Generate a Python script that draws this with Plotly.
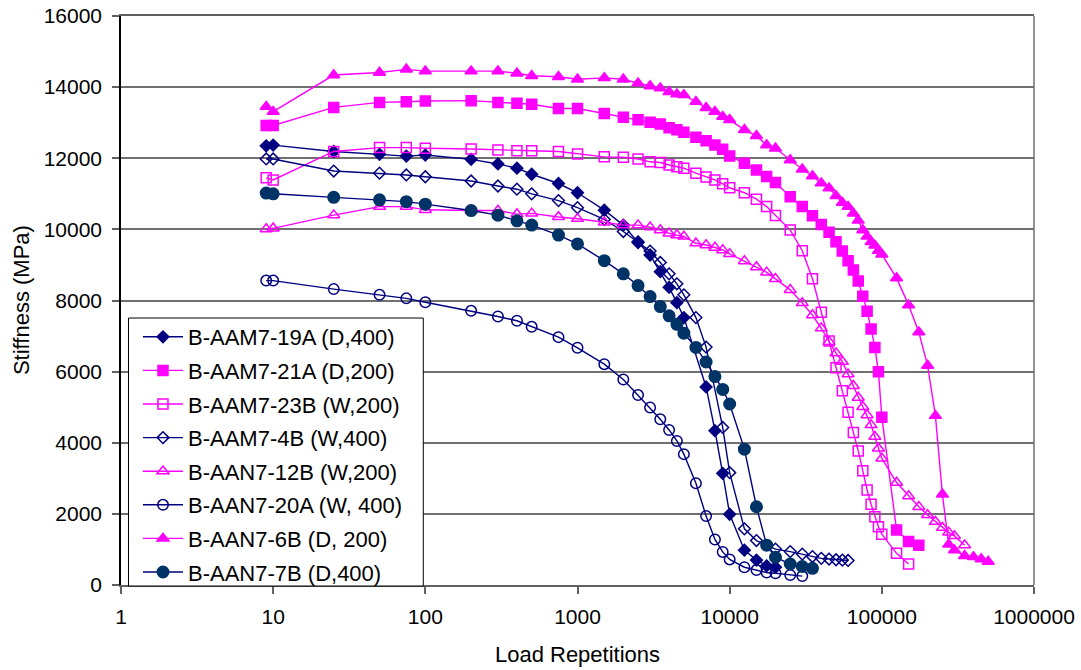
import plotly.graph_objects as go

# ---------------- data ----------------
n_19a = [9, 10, 25, 50, 75, 100, 200, 300, 400, 500, 750, 1000, 1500, 2000, 2500, 3000, 3500, 4000, 4500, 5000,
         7000, 8000, 9000, 10000, 12500, 15000, 17500, 20000]
s_19a = [12350, 12370, 12190, 12110, 12060, 12090, 11970, 11840, 11720, 11550, 11290, 11030, 10540, 10120, 9630,
         9280, 8810, 8370, 7940, 7520, 5570, 4340, 3140, 1990, 980, 700, 540, 500]

n_21a = [9, 10, 25, 50, 75, 100, 200, 300, 400, 500, 750, 1000, 1500, 2000, 2500, 3000, 3500, 4000, 4500, 5000,
         6000, 7000, 8000, 9000, 10000, 12500, 15000, 17500, 20000, 25000, 30000, 35000, 40000, 45000, 50000,
         55000, 60000, 65000, 70000, 75000, 80000, 85000, 90000, 95000, 100000, 125000, 150000, 175000]
s_21a = [12920, 12920, 13430, 13570, 13590, 13610, 13620, 13570, 13550, 13520, 13400, 13400, 13260, 13150, 13080,
         13010, 12960, 12860, 12800, 12730, 12590, 12490, 12370, 12250, 12060, 11860, 11670, 11490, 11320, 10920,
         10640, 10380, 10140, 9920, 9650, 9390, 9120, 8860, 8550, 8120, 7700, 7200, 6680, 6000, 4720, 1550, 1220, 1120]

n_23b = [9, 10, 25, 50, 75, 100, 200, 300, 400, 500, 750, 1000, 1500, 2000, 2500, 3000, 3500, 4000, 4500, 5000,
         6000, 7000, 8000, 9000, 10000, 12500, 15000, 17500, 20000, 25000, 30000, 35000, 40000, 45000, 50000,
         55000, 60000, 65000, 70000, 75000, 80000, 85000, 90000, 95000, 100000, 125000, 150000]
s_23b = [11450, 11390, 12190, 12300, 12300, 12280, 12260, 12230, 12210, 12210, 12190, 12120, 12040, 12030, 11980,
         11900, 11880, 11810, 11760, 11720, 11580, 11470, 11390, 11280, 11170, 11030, 10850, 10640, 10390, 9980,
         9400, 8610, 7670, 6860, 6110, 5460, 4860, 4290, 3770, 3210, 2670, 2270, 1920, 1640, 1430, 890, 590]

n_4b = [9, 10, 25, 50, 75, 100, 200, 300, 400, 500, 750, 1000, 1500, 2000, 2500, 3000, 3500, 4000, 4500, 5000,
        6000, 7000, 9000, 10000, 12500, 15000, 20000, 25000, 30000, 35000, 40000, 45000, 50000, 55000, 60000]
s_4b = [11980, 11980, 11640, 11580, 11530, 11480, 11360, 11220, 11130, 11000, 10810, 10610, 10280, 9940, 9650,
        9390, 9070, 8750, 8470, 8160, 7520, 6690, 4430, 3160, 1580, 1250, 1010, 940, 870, 800, 750, 730, 710, 700, 690]

n_12b = [9, 10, 25, 50, 75, 100, 200, 300, 400, 500, 750, 1000, 1500, 2000, 2500, 3000, 3500, 4000, 4500, 5000,
         6000, 7000, 8000, 9000, 10000, 12500, 15000, 17500, 20000, 25000, 30000, 35000, 40000, 45000, 50000,
         55000, 60000, 65000, 70000, 75000, 80000, 85000, 90000, 95000, 100000, 125000, 150000, 175000, 200000,
         225000, 250000, 275000, 300000, 350000]
s_12b = [10010, 10030, 10400, 10640, 10640, 10550, 10530, 10530, 10430, 10450, 10350, 10300, 10200, 10120, 10120,
         10060, 9980, 9890, 9840, 9800, 9610, 9560, 9490, 9420, 9310, 9110, 8940, 8790, 8610, 8300, 7930, 7590,
         7220, 6840, 6520, 6280, 5930, 5600, 5270, 5010, 4780, 4500, 4170, 3840, 3560, 2880, 2500, 2200, 1970,
         1780, 1610, 1480, 1380, 1120]

n_20a = [9, 10, 25, 50, 75, 100, 200, 300, 400, 500, 750, 1000, 1500, 2000, 2500, 3000, 3500, 4000, 4500, 5000,
         6000, 7000, 8000, 9000, 10000, 12500, 15000, 17500, 20000, 25000, 30000]
s_20a = [8560, 8560, 8320, 8160, 8060, 7950, 7710, 7550, 7430, 7260, 6970, 6670, 6210, 5780, 5340, 4990, 4660,
         4360, 4050, 3680, 2860, 1940, 1280, 930, 720, 500, 420, 350, 330, 280, 250]

n_6b = [9, 10, 25, 50, 75, 100, 200, 300, 400, 500, 750, 1000, 1500, 2000, 2500, 3000, 3500, 4000, 4500, 5000,
        6000, 7000, 8000, 9000, 10000, 12500, 15000, 17500, 20000, 25000, 30000, 35000, 40000, 45000, 50000,
        55000, 60000, 65000, 70000, 75000, 80000, 85000, 90000, 95000, 100000, 125000, 150000, 175000, 200000,
        225000, 250000, 275000, 300000, 350000, 400000, 450000, 500000]
s_6b = [13450, 13310, 14340, 14410, 14500, 14450, 14450, 14450, 14390, 14320, 14290, 14220, 14260, 14220, 14110,
        14030, 13970, 13870, 13800, 13780, 13590, 13420, 13310, 13170, 13080, 12800, 12630, 12370, 12280, 11950,
        11690, 11500, 11300, 11160, 10940, 10750, 10640, 10450, 10250, 9980, 9800, 9650, 9550, 9400, 9300, 8630,
        7870, 7110, 6170, 4760, 2550, 1140, 980, 820, 790, 730, 660]

n_7b = [9, 10, 25, 50, 75, 100, 200, 300, 400, 500, 750, 1000, 1500, 2000, 2500, 3000, 3500, 4000, 4500, 5000,
        6000, 7000, 8000, 9000, 10000, 12500, 15000, 17500, 20000, 25000, 30000, 35000]
s_7b = [11020, 11000, 10900, 10830, 10780, 10710, 10530, 10400, 10240, 10120, 9840, 9590, 9120, 8750, 8420, 8110,
        7830, 7570, 7330, 7080, 6680, 6270, 5860, 5500, 5090, 3820, 2200, 1120, 780, 590, 520, 470]

x_tick_vals = [1, 10, 100, 1000, 10000, 100000, 1000000]
x_tick_text = ["1", "10", "100", "1000", "10000", "100000", "1000000"]

NAVY = "#000080"
MAG = "#FF00FF"
TEAL = "#003366"

series = [
    ("B-AAM7-19A (D,400)", n_19a, s_19a, NAVY, NAVY, "diamond", 9),
    ("B-AAM7-21A (D,200)", n_21a, s_21a, MAG, MAG, "square", 10),
    ("B-AAM7-23B (W,200)", n_23b, s_23b, MAG, MAG, "square-open", 10),
    ("B-AAM7-4B (W,400)", n_4b, s_4b, NAVY, NAVY, "diamond-open", 9),
    ("B-AAN7-12B (W,200)", n_12b, s_12b, MAG, MAG, "triangle-up-open", 10.5),
    ("B-AAN7-20A (W, 400)", n_20a, s_20a, NAVY, NAVY, "circle-open", 10.5),
    ("B-AAN7-6B (D, 200)", n_6b, s_6b, MAG, MAG, "triangle-up", 10.5),
    ("B-AAN7-7B (D,400)", n_7b, s_7b, NAVY, TEAL, "circle", 11.5),
]

fig = go.Figure()
for name, xs, ys, lc, mc, sym, sz in series:
    fig.add_trace(go.Scatter(
        x=xs, y=ys, name=name, mode="lines+markers", legendgroup=name,
        line=dict(color=lc, width=1.4),
        marker=dict(symbol=sym, size=sz, color=mc, line=dict(color=mc, width=1.5)),
    ))

FONT = "Liberation Sans, Arial, sans-serif"
fig.update_layout(
    width=1081, height=670,
    margin=dict(l=120.5, r=47, t=16, b=85),
    paper_bgcolor="white", plot_bgcolor="white",
    font=dict(family=FONT, size=21, color="black"),
    showlegend=True,
    legend=dict(
        x=0.0186, y=-0.0141, xanchor="left", yanchor="bottom",
        bgcolor="rgba(0,0,0,0)", borderwidth=0,
        font=dict(family=FONT, size=22, color="black"),
        traceorder="grouped", tracegroupgap=2.0, itemwidth=40,
    ),
    shapes=[
        dict(type="line", xref="paper", yref="paper", x0=1, x1=1, y0=0, y1=1,
             line=dict(color="#707070", width=1.5)),
        dict(type="rect", xref="paper", yref="paper", x0=0.0082, x1=0.3311, y0=-0.0018, y1=0.4692,
             fillcolor="white", line=dict(color="black", width=1), layer="above"),
    ],
    annotations=[
        dict(text="Stiffness (MPa)", xref="paper", yref="paper", x=-0.1089, y=0.5,
             xanchor="center", yanchor="middle", textangle=-90, showarrow=False,
             font=dict(family=FONT, size=22, color="black")),
    ],
)
fig.update_xaxes(
    type="log", range=[0, 6], automargin=False,
    tickvals=x_tick_vals, ticktext=x_tick_text,
    ticks="outside", ticklen=7, tickcolor="#606060", tickwidth=1.5, ticklabelstandoff=5,
    ticklabeloverflow="allow",
    showline=True, linecolor="#606060", linewidth=1.5, mirror=True,
    showgrid=False, zeroline=False,
    title=dict(text="Load Repetitions", font=dict(family=FONT, size=22), standoff=20),
    tickfont=dict(family=FONT, size=21),
)
fig.update_yaxes(
    range=[0, 16000], dtick=2000, tick0=0, tickformat="d", automargin=False,
    ticks="outside", ticklen=7, tickcolor="#606060", tickwidth=1.5, ticklabelstandoff=6,
    ticklabeloverflow="allow",
    showline=True, linecolor="black", linewidth=1.5,
    showgrid=True, gridcolor="#707070", gridwidth=1.5,
    zeroline=False,
    tickfont=dict(family=FONT, size=21),
)

fig.write_html(
    "out.html",
    config={"displayModeBar": False},
    post_script="document.body.style.margin='0px'; document.body.style.overflow='hidden';",
)
